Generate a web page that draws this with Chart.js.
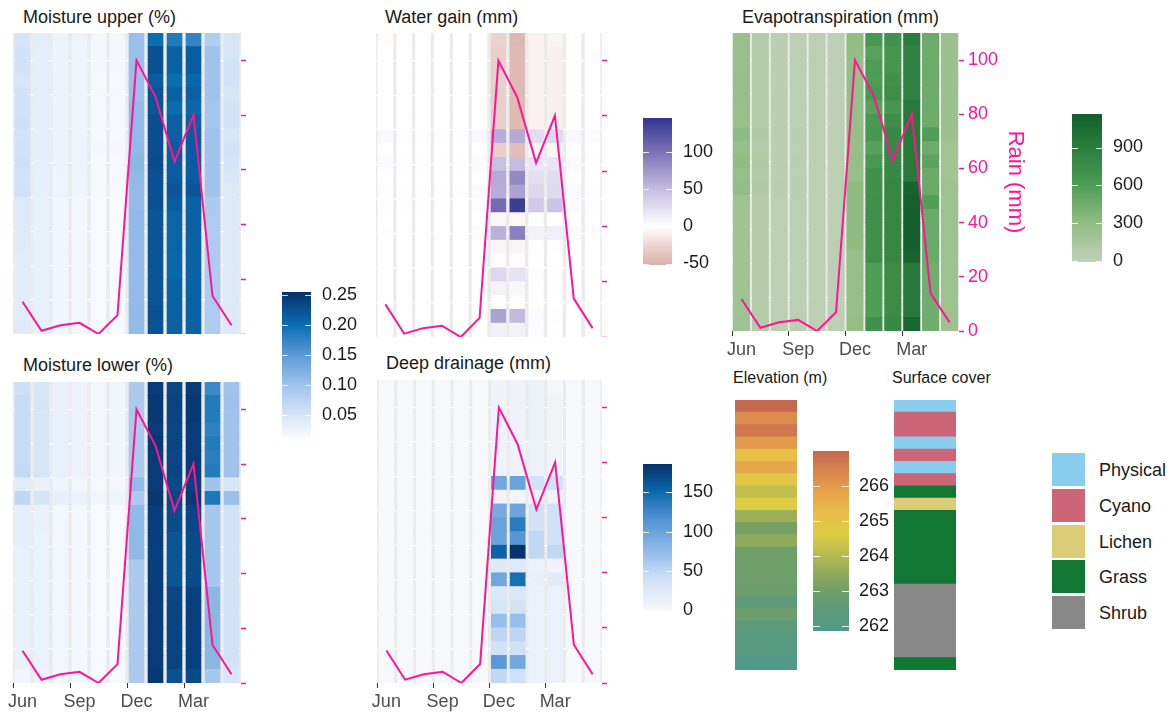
<!DOCTYPE html>
<html>
<head>
<meta charset="utf-8">
<script src="https://cdn.jsdelivr.net/npm/chart.js@4.4.0/dist/chart.umd.min.js"></script>
<style>
  body { margin: 0; background: #fff; width: 1172px; height: 713px; position: relative; overflow: hidden;
         font-family: 'Liberation Sans', Arial, sans-serif; color: #1a1a1a; }
  .box { position: absolute; }
  .ttl { position: absolute; font-size: 18px; line-height: 18px; white-space: nowrap; }
  .sub { position: absolute; font-size: 16px; line-height: 16px; white-space: nowrap; }
  .key { position: absolute; width: 33px; height: 33px; }
  .lab { position: absolute; font-size: 18px; line-height: 18px; white-space: nowrap; }
</style>
</head>
<body>
<div class="ttl" style="left:23px;top:8px">Moisture upper (%)</div>
<div class="ttl" style="left:385px;top:8px">Water gain (mm)</div>
<div class="ttl" style="left:742px;top:8px">Evapotranspiration (mm)</div>
<div class="ttl" style="left:23px;top:356px">Moisture lower (%)</div>
<div class="ttl" style="left:386px;top:354px">Deep drainage (mm)</div>
<div class="sub" style="left:733px;top:370px">Elevation (m)</div>
<div class="sub" style="left:892px;top:370px">Surface cover</div>
<div id="legend"></div>

<script>
const PINK = '#ff1493';
const ROWS = 22;
const ROW_H = 5; // rain units per tile row, 22 rows -> 0..110

const months = ['Jun', 'Jul', 'Aug', 'Sep', 'Oct', 'Nov', 'Dec', 'Jan', 'Feb', 'Mar', 'Apr', 'May'];
const rain = [11.8, 1.2, 3.2, 4.1, 0, 6.9, 100, 86.7, 63, 80.1, 13.9, 3.2];
const rainTicks = [0, 20, 40, 60, 80, 100];
const gridTicks = [12.5, 25, 37.5, 50, 62.5, 75, 87.5, 100];

// one array per month, 22 sites from top to bottom
const moistUpper = [
  [0.052,0.056,0.056,0.05,0.056,0.056,0.058,0.055,0.056,0.058,0.055,0.056,0.045,0.044,0.042,0.042,0.04,0.04,0.04,0.04,0.04,0.042],
  [0.038,0.036,0.036,0.035,0.036,0.035,0.035,0.035,0.035,0.034,0.033,0.032,0.03,0.03,0.03,0.03,0.03,0.03,0.03,0.03,0.03,0.03],
  [0.027,0.026,0.026,0.026,0.026,0.026,0.026,0.026,0.027,0.026,0.025,0.025,0.022,0.022,0.022,0.022,0.022,0.022,0.022,0.022,0.022,0.022],
  [0.024,0.023,0.023,0.023,0.023,0.023,0.023,0.023,0.025,0.024,0.023,0.023,0.02,0.02,0.02,0.02,0.02,0.02,0.02,0.02,0.02,0.02],
  [0.017,0.017,0.017,0.016,0.017,0.016,0.016,0.016,0.017,0.016,0.016,0.016,0.015,0.015,0.015,0.015,0.015,0.015,0.015,0.015,0.015,0.015],
  [0.018,0.017,0.017,0.016,0.017,0.016,0.016,0.016,0.017,0.016,0.016,0.016,0.015,0.015,0.015,0.015,0.015,0.015,0.015,0.015,0.015,0.015],
  [0.105,0.105,0.105,0.105,0.105,0.11,0.11,0.11,0.112,0.115,0.112,0.11,0.11,0.112,0.112,0.11,0.11,0.11,0.11,0.11,0.112,0.11],
  [0.2,0.225,0.225,0.215,0.222,0.222,0.228,0.228,0.228,0.23,0.225,0.225,0.226,0.222,0.222,0.222,0.222,0.222,0.222,0.222,0.226,0.224],
  [0.185,0.21,0.21,0.2,0.21,0.202,0.212,0.212,0.215,0.215,0.215,0.22,0.215,0.208,0.208,0.208,0.205,0.205,0.21,0.21,0.21,0.21],
  [0.175,0.215,0.215,0.205,0.212,0.205,0.212,0.215,0.215,0.215,0.215,0.22,0.21,0.21,0.21,0.21,0.21,0.21,0.21,0.21,0.21,0.21],
  [0.085,0.1,0.1,0.1,0.1,0.095,0.095,0.1,0.1,0.1,0.1,0.1,0.09,0.088,0.088,0.088,0.088,0.088,0.088,0.088,0.088,0.088],
  [0.05,0.05,0.055,0.055,0.05,0.055,0.055,0.05,0.055,0.052,0.05,0.045,0.045,0.045,0.045,0.045,0.045,0.045,0.045,0.045,0.045,0.045]
];

const moistLower = [
  [0.058,0.065,0.065,0.065,0.065,0.065,0.068,0.04,0.072,0.035,0.035,0.035,0.03,0.03,0.03,0.03,0.03,0.03,0.03,0.03,0.03,0.022],
  [0.05,0.052,0.05,0.05,0.05,0.05,0.05,0.03,0.052,0.03,0.03,0.028,0.028,0.028,0.028,0.028,0.028,0.028,0.028,0.028,0.028,0.025],
  [0.03,0.03,0.03,0.03,0.03,0.03,0.03,0.025,0.032,0.02,0.02,0.02,0.02,0.02,0.02,0.02,0.02,0.02,0.02,0.02,0.02,0.02],
  [0.026,0.026,0.026,0.026,0.026,0.026,0.026,0.02,0.028,0.018,0.018,0.018,0.018,0.018,0.018,0.018,0.018,0.018,0.018,0.018,0.018,0.018],
  [0.02,0.02,0.02,0.02,0.02,0.02,0.02,0.016,0.022,0.015,0.015,0.015,0.015,0.015,0.015,0.015,0.015,0.015,0.015,0.015,0.015,0.015],
  [0.022,0.022,0.022,0.022,0.022,0.022,0.022,0.017,0.024,0.015,0.015,0.015,0.015,0.015,0.015,0.015,0.015,0.015,0.015,0.015,0.015,0.015],
  [0.09,0.09,0.09,0.09,0.09,0.09,0.09,0.11,0.09,0.112,0.112,0.112,0.112,0.092,0.09,0.09,0.09,0.09,0.09,0.09,0.09,0.09],
  [0.245,0.247,0.247,0.245,0.247,0.245,0.245,0.245,0.25,0.242,0.242,0.242,0.24,0.242,0.242,0.245,0.245,0.245,0.245,0.245,0.245,0.248],
  [0.235,0.238,0.236,0.235,0.236,0.235,0.236,0.232,0.236,0.23,0.23,0.222,0.222,0.222,0.222,0.235,0.237,0.237,0.237,0.237,0.237,0.225],
  [0.245,0.248,0.248,0.245,0.245,0.245,0.245,0.24,0.247,0.235,0.235,0.232,0.232,0.23,0.232,0.24,0.24,0.24,0.24,0.24,0.24,0.232],
  [0.17,0.185,0.185,0.178,0.185,0.18,0.185,0.1,0.188,0.095,0.095,0.095,0.095,0.095,0.095,0.115,0.115,0.115,0.115,0.115,0.115,0.095],
  [0.1,0.102,0.1,0.1,0.1,0.1,0.1,0.05,0.105,0.055,0.055,0.055,0.055,0.055,0.055,0.055,0.055,0.055,0.055,0.055,0.055,0.05]
];

const waterGain = [
  [-2,0,0,0,0,0,0,5,0,3,0,2,1,0,1,0,0,0,0,0,0,0],
  [0,0,0,0,0,0,0,2,0,1,0,1,1,0,0,0,0,0,0,0,0,0],
  [0,0,0,0,0,0,0,2,0,1,0,1,1,0,0,0,0,0,0,0,0,0],
  [0,0,0,0,0,0,0,2,0,1,0,1,1,0,0,0,0,0,0,0,0,0],
  [0,0,0,0,0,0,0,2,0,1,0,1,0,0,0,0,0,0,0,0,0,0],
  [0,0,0,0,0,0,0,5,0,3,0,3,2,0,2,0,0,0,0,0,0,0],
  [-28,-30,-30,-30,-30,-30,-30,60,-30,48,62,60,105,-5,58,-6,-2,30,10,1,68,12],
  [-46,-45,-45,-45,-45,-45,-45,62,-42,50,85,68,140,-4,90,-6,-2,22,6,1,52,10],
  [-8,-8,-8,-8,-8,-8,-8,25,-7,18,24,30,40,-1,10,1,0,2,1,1,3,2],
  [-7,-9,-9,-9,-9,-9,-9,28,-6,20,26,28,44,0,13,1,0,1,1,0,2,1],
  [0,0,0,0,0,0,0,6,-1,4,1,5,4,0,3,0,0,0,0,0,0,0],
  [0,0,0,0,0,0,0,2,0,1,0,1,1,0,1,0,0,0,0,0,0,0]
];

const evapo = [
  [260,260,260,265,265,260,262,320,270,310,270,300,220,215,215,215,210,215,210,210,210,220],
  [80,80,80,80,80,80,80,100,90,100,95,100,70,70,70,70,70,70,70,70,70,75],
  [35,35,35,35,35,35,35,38,35,38,35,38,30,30,30,30,30,30,30,30,30,30],
  [30,30,30,30,30,30,30,32,30,32,30,32,28,28,28,28,28,28,28,28,28,28],
  [25,25,25,25,25,25,25,26,25,26,25,26,22,22,22,22,22,22,22,22,22,22],
  [25,25,25,25,25,25,25,28,25,28,25,28,24,24,24,24,24,24,24,24,24,24],
  [300,300,270,270,270,270,270,280,270,280,270,320,320,320,320,320,270,270,270,270,270,290],
  [650,560,610,600,650,560,640,660,570,650,720,720,730,730,730,730,730,600,600,600,600,720],
  [720,670,670,720,740,670,740,800,800,800,800,820,820,820,820,820,820,760,760,760,760,800],
  [900,850,850,850,850,930,930,930,930,930,930,1120,1150,1160,1160,1160,1120,940,940,940,940,1100],
  [470,470,470,470,470,470,470,590,470,540,480,480,590,480,480,480,480,450,450,450,450,450],
  [240,240,240,240,240,240,240,240,200,200,200,230,230,230,230,230,230,230,230,230,230,230]
];

const zeros = Array(ROWS).fill(0);
const deepDrain = [
  zeros, zeros, zeros, zeros, zeros, zeros,
  [8,8,8,8,8,8,8,95,6,92,100,100,155,25,95,28,32,72,50,38,110,48],
  [8,8,8,8,8,8,8,100,6,98,135,112,185,26,145,28,36,72,50,40,95,40],
  [10,10,10,10,10,10,10,38,8,38,38,48,48,12,15,12,12,12,12,12,12,12],
  [4,7,7,7,7,7,7,40,7,40,40,40,48,8,22,13,13,13,13,13,13,13],
  zeros, zeros
];

// site strips, top to bottom
const elevation = [267.0, 266.3, 266.7, 266.0, 265.2, 265.7, 264.8, 264.2, 264.6, 263.7, 263.1,
                   263.5, 263.0, 263.0, 262.95, 262.9, 262.5, 262.85, 262.4, 262.2, 262.2, 261.9];
const coverTypes = ['Physical', 'Cyano', 'Lichen', 'Grass', 'Shrub'];
const coverColors = ['#88ccee', '#cc6677', '#ddcc77', '#117733', '#888888'];
const cover = ['Physical', 'Cyano', 'Cyano', 'Physical', 'Cyano', 'Physical', 'Cyano', 'Grass', 'Lichen',
               'Grass', 'Grass', 'Grass', 'Grass', 'Grass', 'Grass',
               'Shrub', 'Shrub', 'Shrub', 'Shrub', 'Shrub', 'Shrub', 'Grass'];

// colour scales
const blueStops = [[0.014, '#f7fafd'], [0.05, '#d6e6f7'], [0.10, '#a0c3ec'], [0.15, '#5b9ad6'], [0.20, '#0a6db2'], [0.255, '#08306b']];
const gainStops = [[-52, '#d9b0a8'], [-25, '#ecd6d2'], [0, '#ffffff'], [50, '#c4bde0'], [100, '#7d72b8'], [146, '#33358e']];
const etStops = [[0, '#bfd1b7'], [300, '#93bd84'], [600, '#4f9d55'], [900, '#2b7d3d'], [1165, '#135f2c']];
const drainStops = [[0, '#f7f8fa'], [40, '#cfe1f6'], [80, '#8ab6e6'], [120, '#4a8ed0'], [150, '#0b6aae'], [186, '#08306b']];
const elevStops = [[261.86, '#4f9a8b'], [262.5, '#5f9a78'], [263, '#6f9f69'], [263.5, '#8fa95b'], [264, '#b5b950'],
                   [264.6, '#dccc45'], [265.2, '#e7bf48'], [265.8, '#e8a24b'], [266.4, '#d9874c'], [267.0, '#c4684f']];

Chart.defaults.font.family = "'Liberation Sans', Arial, sans-serif";
Chart.defaults.font.size = 18;
Chart.defaults.color = '#1a1a1a';

const hex = h => [1, 3, 5].map(i => parseInt(h.slice(i, i + 2), 16));

function colorAt(stops, v) {
  if (v <= stops[0][0]) return stops[0][1];
  for (let i = 1; i < stops.length; i++) {
    if (v <= stops[i][0]) {
      const [v0, c0] = stops[i - 1];
      const [v1, c1] = stops[i];
      const t = (v - v0) / (v1 - v0);
      const a = hex(c0), b = hex(c1);
      return 'rgb(' + a.map((x, k) => Math.round(x + (b[k] - x) * t)).join(',') + ')';
    }
  }
  return stops[stops.length - 1][1];
}

function addCanvas(left, top, w, h) {
  const d = document.createElement('div');
  d.className = 'box';
  d.style.cssText = `left:${left}px;top:${top}px;width:${w}px;height:${h}px`;
  const c = document.createElement('canvas');
  c.width = w;
  c.height = h;
  d.appendChild(c);
  document.body.appendChild(d);
  return c;
}

// grey ggplot-style panel background
const panelBg = {
  id: 'panelBg',
  beforeDraw(chart) {
    const { ctx, chartArea: a } = chart;
    ctx.save();
    ctx.fillStyle = '#ebebeb';
    ctx.fillRect(a.left, a.top, a.right - a.left, a.bottom - a.top);
    ctx.restore();
  }
};

// short white marks across a colour bar
const barTicks = {
  id: 'barTicks',
  afterDatasetsDraw(chart) {
    const { ctx, chartArea: a, scales: { y } } = chart;
    const len = (a.right - a.left) / 5;
    ctx.save();
    ctx.strokeStyle = 'rgba(255,255,255,0.85)';
    ctx.lineWidth = 1;
    y.ticks.forEach(t => {
      const py = Math.round(y.getPixelForValue(t.value)) + 0.5;
      ctx.beginPath();
      ctx.moveTo(a.left, py); ctx.lineTo(a.left + len, py);
      ctx.moveTo(a.right - len, py); ctx.lineTo(a.right, py);
      ctx.stroke();
    });
    ctx.restore();
  }
};

function heatPanel(p) {
  const padL = 22;
  const rightW = p.rainLabels ? 73 : 10;
  const bottomH = p.monthLabels ? 30 : 0;
  const w = p.x1 - p.x0, h = p.y1 - p.y0;
  const canvas = addCanvas(p.x0 - padL, p.y0, w + padL + rightW, h + bottomH);

  const datasets = [];
  for (let r = ROWS - 1; r >= 0; r--) {
    datasets.push({
      type: 'bar', stack: 'tiles', order: 1,
      data: months.map(() => ROW_H),
      backgroundColor: months.map((m, i) => colorAt(p.stops, p.values[i][r])),
      barPercentage: p.barPct, categoryPercentage: 1, borderWidth: 0, inflateAmount: 0.4
    });
  }
  datasets.push({
    type: 'line', stack: 'rain', order: 0, data: rain,
    borderColor: PINK, borderWidth: 2, pointRadius: 0, tension: 0, fill: false
  });

  new Chart(canvas, {
    type: 'bar',
    data: { labels: months, datasets },
    plugins: [panelBg],
    options: {
      responsive: false,
      animation: false,
      events: [],
      layout: { padding: { left: padL } },
      plugins: { legend: { display: false }, tooltip: { enabled: false } },
      scales: {
        x: {
          display: p.monthLabels,
          offset: true,
          grid: {
            drawOnChartArea: false, tickLength: 5, tickWidth: 1,
            tickColor: c => c.index % 3 === 0 ? '#333333' : 'rgba(0,0,0,0)'
          },
          border: { display: false },
          ticks: {
            autoSkip: false, maxRotation: 0, padding: 3, color: '#4d4d4d',
            callback: (v, i) => i % 3 === 0 ? months[i] : ''
          },
          afterFit: s => { s.height = bottomH; s.paddingLeft = 0; s.paddingRight = 0; }
        },
        y: {
          stacked: true, min: 0, max: ROWS * ROW_H, position: 'left',
          afterBuildTicks: s => { s.ticks = gridTicks.map(v => ({ value: v })); },
          grid: { color: '#ffffff', lineWidth: 1.2, drawTicks: false },
          border: { display: false },
          ticks: { display: false },
          afterFit: s => { s.width = 0; s.paddingTop = 0; s.paddingBottom = 0; }
        },
        y2: {
          position: 'right', min: 0, max: ROWS * ROW_H,
          afterBuildTicks: s => { s.ticks = rainTicks.map(v => ({ value: v })); },
          grid: { drawOnChartArea: false, tickLength: 5, tickWidth: 1.5, tickColor: PINK },
          border: { display: false },
          ticks: { color: PINK, padding: 4, callback: v => p.rainLabels ? v : '' },
          title: {
            display: p.rainLabels, text: 'Rain (mm)', color: PINK,
            font: { size: 22 }, padding: { top: 4, bottom: 0 }
          },
          afterFit: s => { s.width = rightW; s.paddingTop = 0; s.paddingBottom = 0; }
        }
      }
    }
  });
}

function colorBar(b) {
  const labelW = 60;
  const canvas = addCanvas(b.x0, b.y0 - 12, b.x1 - b.x0 + labelW, b.y1 - b.y0 + 24);
  new Chart(canvas, {
    type: 'bar',
    data: {
      labels: [''],
      datasets: [{
        data: [[b.min, b.max]],
        backgroundColor: ctx => {
          const { chart } = ctx;
          const y = chart.scales.y;
          if (!chart.chartArea || !y) return 'rgba(0,0,0,0)';
          const g = chart.ctx.createLinearGradient(0, y.getPixelForValue(b.min), 0, y.getPixelForValue(b.max));
          b.stops.forEach(([v, c]) => {
            g.addColorStop(Math.min(1, Math.max(0, (v - b.min) / (b.max - b.min))), c);
          });
          return g;
        },
        barPercentage: 1, categoryPercentage: 1, borderWidth: 0
      }]
    },
    plugins: [barTicks],
    options: {
      responsive: false,
      animation: false,
      events: [],
      layout: { padding: { top: 12, bottom: 12 } },
      plugins: { legend: { display: false }, tooltip: { enabled: false } },
      scales: {
        x: { display: false },
        y: {
          position: 'right', min: b.min, max: b.max,
          afterBuildTicks: s => { s.ticks = b.ticks.map(v => ({ value: v })); },
          grid: { display: false, drawTicks: false },
          border: { display: false },
          ticks: { padding: b.pad || 11, callback: b.fmt || (v => v) },
          afterFit: s => { s.width = labelW; s.paddingTop = 0; s.paddingBottom = 0; }
        }
      }
    }
  });
}

function strip(s) {
  const canvas = addCanvas(s.x0, s.y0, s.x1 - s.x0, s.y1 - s.y0);
  const datasets = [];
  for (let r = s.colors.length - 1; r >= 0; r--) {
    datasets.push({
      data: [1], backgroundColor: s.colors[r], stack: 's',
      barPercentage: 1, categoryPercentage: 1, borderWidth: 0, inflateAmount: 0.4
    });
  }
  new Chart(canvas, {
    type: 'bar',
    data: { labels: [''], datasets },
    options: {
      responsive: false,
      animation: false,
      events: [],
      plugins: { legend: { display: false }, tooltip: { enabled: false } },
      scales: {
        x: { display: false, stacked: true },
        y: { display: false, stacked: true, min: 0, max: s.colors.length }
      }
    }
  });
}

// heatmap panels
heatPanel({ x0: 13, x1: 241, y0: 33, y1: 334, values: moistUpper, stops: blueStops, barPct: 0.78 });
heatPanel({ x0: 376, x1: 602, y0: 33, y1: 337, values: waterGain, stops: gainStops, barPct: 0.78 });
heatPanel({ x0: 732, x1: 959, y0: 33, y1: 331, values: evapo, stops: etStops, barPct: 0.86,
            monthLabels: true, rainLabels: true });
heatPanel({ x0: 13, x1: 241, y0: 382, y1: 683, values: moistLower, stops: blueStops, barPct: 0.78,
            monthLabels: true });
heatPanel({ x0: 377, x1: 602, y0: 380, y1: 683, values: deepDrain, stops: drainStops, barPct: 0.8,
            monthLabels: true });

// colour bars
colorBar({ x0: 282, x1: 311, y0: 292, y1: 437, min: 0.014, max: 0.255, stops: blueStops,
           ticks: [0.05, 0.10, 0.15, 0.20, 0.25], fmt: v => v.toFixed(2) });
colorBar({ x0: 643, x1: 672, y0: 118, y1: 265, min: -52, max: 146, stops: gainStops, ticks: [-50, 0, 50, 100] });
colorBar({ x0: 643, x1: 672, y0: 464, y1: 611, min: -1, max: 186, stops: drainStops, ticks: [0, 50, 100, 150] });
colorBar({ x0: 1072, x1: 1102, y0: 114, y1: 262, min: -5, max: 1165, stops: etStops, ticks: [0, 300, 600, 900] });
colorBar({ x0: 813, x1: 849, y0: 451, y1: 631, min: 261.86, max: 267.0, stops: elevStops,
           ticks: [262, 263, 264, 265, 266], pad: 10 });

// site strips
strip({ x0: 735, x1: 797, y0: 400, y1: 670, colors: elevation.map(v => colorAt(elevStops, v)) });
strip({ x0: 894, x1: 956, y0: 400, y1: 670, colors: cover.map(c => coverColors[coverTypes.indexOf(c)]) });

// surface cover legend
const legendEl = document.getElementById('legend');
coverTypes.forEach((name, i) => {
  const top = 453 + i * 35.8;
  legendEl.insertAdjacentHTML('beforeend',
    `<div class="key" style="left:1052px;top:${top}px;background:${coverColors[i]}"></div>` +
    `<div class="lab" style="left:1099px;top:${top + 8}px">${name}</div>`);
});
</script>
</body>
</html>
